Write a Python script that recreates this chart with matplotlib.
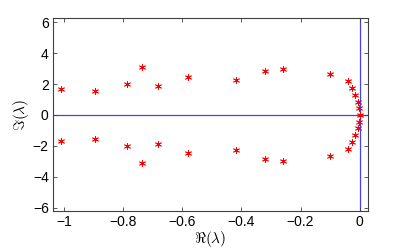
import numpy as np
import matplotlib
matplotlib.use('Agg')
import matplotlib.pyplot as plt

plt.rcParams['font.family'] = ['Liberation Sans', 'DejaVu Sans']
plt.rcParams['mathtext.fontset'] = 'cm'

# eigenvalues, upper half-plane (lower half is the conjugate)
re_up = [-1.012, -0.895, -0.786, -0.736, -0.681, -0.582, -0.419, -0.319,
         -0.260, -0.100, -0.040, -0.026, -0.016, -0.007, -0.002]
im_up = [1.66, 1.53, 2.03, 3.13, 1.86, 2.48, 2.29, 2.83,
         2.98, 2.68, 2.20, 1.77, 1.31, 0.87, 0.43]
re_real = [0.0]
im_real = [0.0]

re = np.concatenate([re_up, re_up, re_real])
im = np.concatenate([im_up, -np.array(im_up), im_real])

fig = plt.figure(figsize=(4.07, 2.49), dpi=100)
ax = fig.add_axes([0.130, 0.154, 0.774, 0.7725])

ax.axhline(0, color='#4040ff', lw=0.9, zorder=1)
ax.axvline(0, color='#4040ff', lw=0.9, zorder=1)
ax.plot(re, im, linestyle='none', marker=(6, 2, 0), color='red',
        ms=5, mew=0.6, zorder=3)

ax.set_xlim(-1.038, 0.028)
ax.set_ylim(-6.2, 6.26)
ax.set_xticks(np.arange(-1.0, 0.01, 0.2))
ax.set_xticklabels(['\u22121', '\u22120.8', '\u22120.6', '\u22120.4', '\u22120.2', '0'])
ax.set_yticks([-6, -4, -2, 0, 2, 4, 6])
ax.set_yticklabels(['\u22126', '\u22124', '\u22122', '0', '2', '4', '6'])
ax.tick_params(direction='in', top=True, right=True, labelsize=10, length=3,
               width=0.6, color='#404040', pad=3)
for s in ax.spines.values():
    s.set_color('#404040')
    s.set_linewidth(0.8)

ax.set_xlabel(r'$\Re(\lambda)$', fontsize=11, labelpad=0)
ax.set_ylabel(r'$\Im(\lambda)$', fontsize=11, labelpad=1)

fig.savefig('out.png', dpi=100)
